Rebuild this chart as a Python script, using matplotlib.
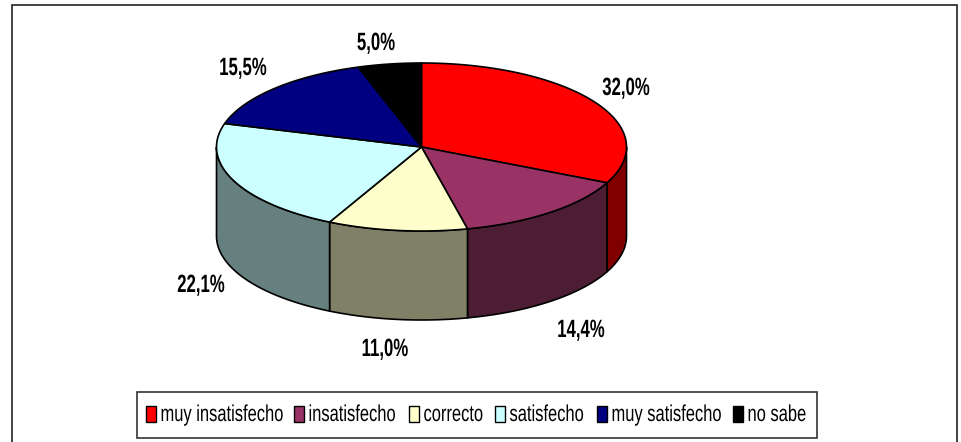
import numpy as np
import matplotlib
matplotlib.use("Agg")
import matplotlib.pyplot as plt
from matplotlib.patches import Polygon, Rectangle
from matplotlib.patheffects import AbstractPathEffect
from matplotlib.text import Text
from matplotlib.transforms import Affine2D, Bbox

categories = ["muy insatisfecho", "insatisfecho", "correcto", "satisfecho", "muy satisfecho", "no sabe"]
values = [32.0, 14.4, 11.0, 22.1, 15.5, 5.0]
value_labels = ["32,0%", "14,4%", "11,0%", "22,1%", "15,5%", "5,0%"]
top_colors = ["#FF0000", "#993366", "#FFFFCC", "#CCFFFF", "#000080", "#000000"]
wall_colors = ["#800000", "#4D1E33", "#808066", "#668080", "#000040", "#000000"]

label_xy = [(626, 88), (581, 330), (385, 349), (201, 285), (243, 68), (376, 43)]
legend_swatch_x = [146, 294, 409, 495, 597, 733]

W, H = 961, 442
CX, CY, RX, RY, DEPTH = 421.5, 147, 205, 84, 89

fig = plt.figure(figsize=(W / 100, H / 100), dpi=100, facecolor="white")
ax = fig.add_axes([0, 0, 1, 1])
ax.set_xlim(0, W)
ax.set_ylim(H, 0)
ax.axis("off")


class Squeeze(AbstractPathEffect):
    """Narrow a text horizontally about its anchor (the chart's font is condensed)."""

    def __init__(self, x_display, sx):
        super().__init__()
        self.x0, self.sx = x_display, sx

    def draw_path(self, renderer, gc, tpath, affine, rgbFace=None):
        squeeze = Affine2D().translate(-self.x0, 0).scale(self.sx, 1).translate(self.x0, 0)
        renderer.draw_path(gc, tpath, affine + squeeze, rgbFace)


class SqueezedText(Text):
    """Text whose reported extent matches its narrowed drawing."""

    squeeze_x0 = 0.0
    squeeze_sx = 1.0

    def get_window_extent(self, renderer=None, dpi=None):
        bb = super().get_window_extent(renderer, dpi)
        x0, sx = self.squeeze_x0, self.squeeze_sx
        return Bbox.from_extents(x0 + (bb.x0 - x0) * sx, bb.y0, x0 + (bb.x1 - x0) * sx, bb.y1)


def squeezed_text(x, y, s, sx, **kw):
    t = SqueezedText(x, y, s, family=["Liberation Sans", "DejaVu Sans"], va="center",
                     color="black", zorder=5, **kw)
    x0 = ax.transData.transform((x, y))[0]
    t.squeeze_x0, t.squeeze_sx = x0, sx
    t.set_path_effects([Squeeze(x0, sx)])
    ax.add_artist(t)
    return t


# outer frame (bottom edge falls outside the picture)
ax.add_patch(Rectangle((12, 5), 945, 460, fc="white", ec="#222222", lw=1.2, zorder=0))


def arc(t0, t1, dy=0.0):
    t = np.radians(np.linspace(t0, t1, max(int(abs(t1 - t0)), 2) + 1))
    return np.column_stack([CX + RX * np.sin(t), CY + dy - RY * np.cos(t)])


edges = np.concatenate([[0], np.cumsum(values)]) / sum(values) * 360

# side walls: only the front half (90..270 deg clockwise from top) is visible
for i in range(len(values)):
    a, b = max(edges[i], 90), min(edges[i + 1], 270)
    if b > a:
        pts = np.vstack([arc(a, b), arc(a, b, DEPTH)[::-1]])
        ax.add_patch(Polygon(pts, closed=True, fc=wall_colors[i], ec="black", lw=1.2, zorder=2))

# top faces
for i in range(len(values)):
    pts = np.vstack([[(CX, CY)], arc(edges[i], edges[i + 1])])
    ax.add_patch(Polygon(pts, closed=True, fc=top_colors[i], ec="black", lw=1.2, zorder=3))

for s, (x, y) in zip(value_labels, label_xy):
    squeezed_text(x, y, s, 0.67, fontweight="bold", fontsize=18, ha="center")

# legend
ax.add_patch(Rectangle((137, 392), 680, 45.5, fc="white", ec="#333333", lw=1.2, zorder=4))
for x, c, name in zip(legend_swatch_x, top_colors, categories):
    ax.add_patch(Rectangle((x, 406), 10, 16, fc=c, ec="black", lw=1.0, zorder=5))
    squeezed_text(x + 14.5, 414.5, name, 0.72, fontsize=16.5, ha="left")

fig.savefig("out.png", dpi=100)
